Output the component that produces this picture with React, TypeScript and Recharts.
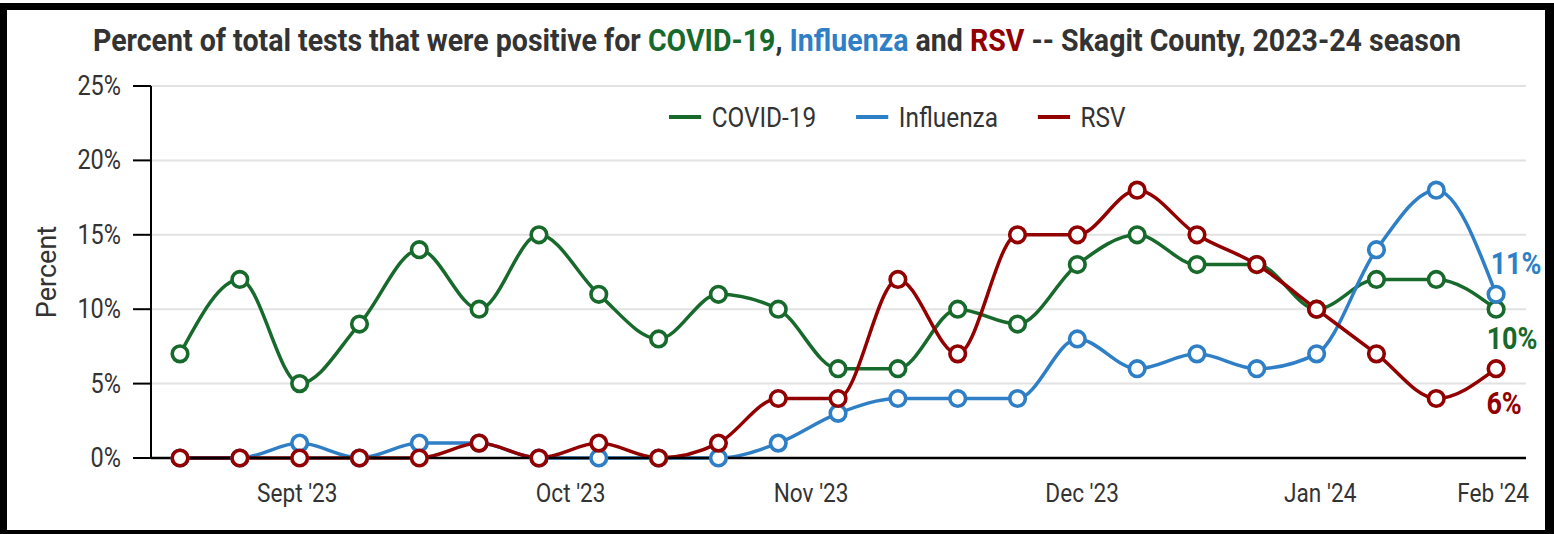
import { LineChart, Line, XAxis, YAxis, CartesianGrid } from 'recharts';

// weekly points, Aug 2023 - Jan 2024
const weekIndex = [0, 1, 2, 3, 4, 5, 6, 7, 8, 9, 10, 11, 12, 13, 14, 15, 16, 17, 18, 19, 20, 21, 22];
const covid = [7, 12, 5, 9, 14, 10, 15, 11, 8, 11, 10, 6, 6, 10, 9, 13, 15, 13, 13, 10, 12, 12, 10];
const influenza = [0, 0, 1, 0, 1, 1, 0, 0, 0, 0, 1, 3, 4, 4, 4, 8, 6, 7, 6, 7, 14, 18, 11];
const rsv = [0, 0, 0, 0, 0, 1, 0, 1, 0, 1, 4, 4, 12, 7, 15, 15, 18, 15, 13, 10, 7, 4, 6];

const monthTickPos = [1.96, 6.53, 10.55, 15.08, 19.06, 21.95];
const monthTickLabels = ["Sept '23", "Oct '23", "Nov '23", "Dec '23", "Jan '24", "Feb '24"];
const percentTicks = [0, 5, 10, 15, 20, 25];

const GREEN = '#176a2b';
const BLUE = '#2f7fc6';
const RED = '#920000';
const TEXT = '#333333';
const FONT = 'Roboto, "Noto Sans", sans-serif';
const SQUEEZE = 0.87;

const data = weekIndex.map((w, i) => ({
  w,
  covid: covid[i],
  influenza: influenza[i],
  rsv: rsv[i],
}));

const series = [
  { key: 'covid', name: 'COVID-19', color: GREEN, dx: 16, dy: 40 },
  { key: 'influenza', name: 'Influenza', color: BLUE, dx: 20, dy: -20 },
  { key: 'rsv', name: 'RSV', color: RED, dx: 8, dy: 45 },
];

function XTick(props: any) {
  const { x, y, payload } = props;
  const idx = monthTickPos.indexOf(payload.value);
  return (
    <text
      transform={`translate(${x},${y + 42}) scale(${SQUEEZE},1)`}
      textAnchor="middle"
      fill={TEXT}
      fontSize={26}
      fontFamily={FONT}
    >
      {monthTickLabels[idx]}
    </text>
  );
}

function YTick(props: any) {
  const { x, y, payload } = props;
  return (
    <text
      transform={`translate(${x},${y + 9}) scale(${SQUEEZE},1)`}
      textAnchor="end"
      fill={TEXT}
      fontSize={27}
      fontFamily={FONT}
    >
      {payload.value}%
    </text>
  );
}

const endLabel = (color: string, dx: number, dy: number) => (props: any) => {
  const { x, y, index, value } = props;
  if (index !== weekIndex.length - 1) return null;
  return (
    <text
      key="end"
      transform={`translate(${x + dx},${y + dy}) scale(${SQUEEZE},1)`}
      textAnchor="middle"
      fill={color}
      fontSize={31}
      fontWeight={700}
      fontFamily={FONT}
    >
      {value}%
    </text>
  );
};

function ChartLegend() {
  return (
    <div
      style={{
        position: 'absolute',
        left: 669,
        top: 100,
        height: 34,
        display: 'flex',
        alignItems: 'center',
        transform: `scaleX(${SQUEEZE})`,
        transformOrigin: 'left center',
        fontFamily: FONT,
        fontSize: 28,
        color: TEXT,
        whiteSpace: 'nowrap',
      }}
    >
      {series.map((s) => (
        <div key={s.key} style={{ display: 'flex', alignItems: 'center', marginRight: 46 }}>
          <div style={{ width: 37, height: 4, background: s.color, marginRight: 12 }} />
          <span>{s.name}</span>
        </div>
      ))}
    </div>
  );
}

export default function App() {
  return (
    <div
      style={{
        position: 'absolute',
        left: 0,
        top: 0,
        width: 1554,
        height: 534,
        background: '#fff',
        overflow: 'hidden',
      }}
    >
      <div
        style={{
          position: 'absolute',
          left: 0,
          top: 3,
          width: 1554,
          height: 534,
          boxSizing: 'border-box',
          borderStyle: 'solid',
          borderColor: '#000',
          borderWidth: '7px 9px 7px 7px',
        }}
      />
      <div
        style={{
          position: 'absolute',
          left: 0,
          top: 25,
          width: 1554,
          textAlign: 'center',
          fontFamily: FONT,
          fontWeight: 700,
          fontSize: 31,
          lineHeight: '31px',
          color: TEXT,
          whiteSpace: 'nowrap',
          transform: 'scaleX(0.92)',
        }}
      >
        Percent of total tests that were positive for <span style={{ color: GREEN }}>COVID-19</span>,{' '}
        <span style={{ color: BLUE }}>Influenza</span> and <span style={{ color: RED }}>RSV</span> -- Skagit
        County, 2023-24 season
      </div>
      <div style={{ position: 'absolute', left: 0, top: 0 }}>
        <LineChart width={1554} height={534} data={data} margin={{ top: 86, right: 28, bottom: 0, left: 0 }}>
          <CartesianGrid horizontal vertical={false} stroke="#e2e2e2" strokeWidth={2} />
          <XAxis
            dataKey="w"
            type="number"
            domain={[-0.485, 22.5]}
            ticks={monthTickPos}
            tick={<XTick />}
            tickLine={false}
            tickSize={0}
            axisLine={{ stroke: '#000', strokeWidth: 2.5 }}
            height={76}
            interval={0}
          />
          <YAxis
            domain={[0, 25]}
            ticks={percentTicks}
            width={151}
            tickSize={18}
            tickMargin={12}
            tickLine={{ stroke: '#000', strokeWidth: 2 }}
            axisLine={{ stroke: '#000', strokeWidth: 2 }}
            tick={<YTick />}
            label={{
              value: 'Percent',
              angle: -90,
              position: 'insideLeft',
              offset: 46,
              fill: TEXT,
              fontSize: 27,
              fontFamily: FONT,
              style: { textAnchor: 'middle' },
            }}
          />
          {series.map((s) => (
            <Line
              key={s.key}
              dataKey={s.key}
              name={s.name}
              type="monotone"
              stroke={s.color}
              strokeWidth={3.5}
              dot={{ r: 7.8, fill: '#fff', stroke: s.color, strokeWidth: 3.6 }}
              activeDot={false}
              isAnimationActive={false}
              label={endLabel(s.color, s.dx, s.dy)}
            />
          ))}
        </LineChart>
      </div>
      <ChartLegend />
    </div>
  );
}
